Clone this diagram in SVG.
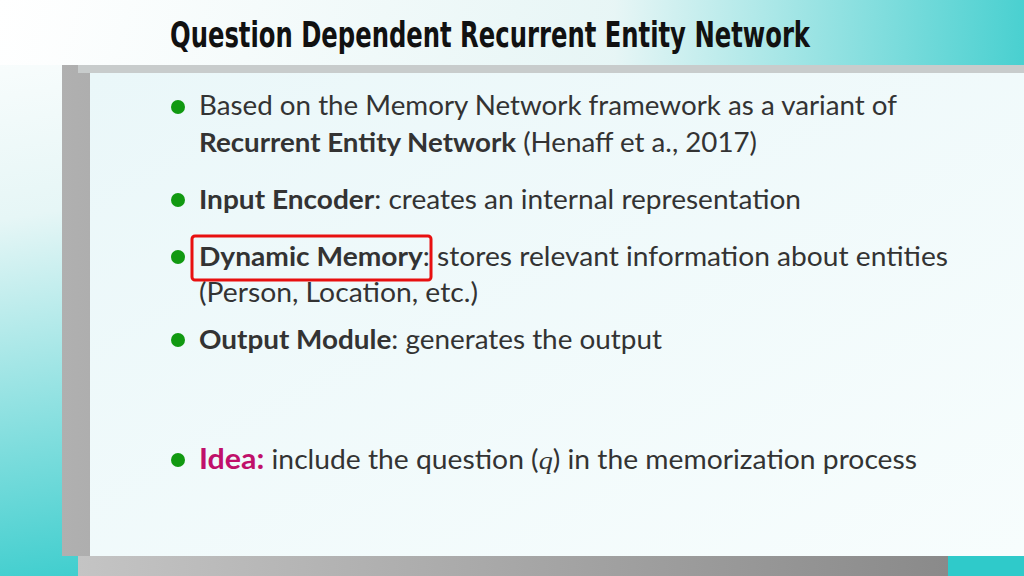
<svg xmlns="http://www.w3.org/2000/svg" width="1024" height="576" viewBox="0 0 1024 576">
<defs>
<linearGradient id="bgL" x1="0" y1="0" x2="0.3" y2="1"><stop offset="0" stop-color="#ffffff"/><stop offset="0.35" stop-color="#e6f6f6"/><stop offset="1" stop-color="#2fcaca"/></linearGradient>
<linearGradient id="bgT" x1="0" y1="0" x2="1" y2="0"><stop offset="0" stop-color="#ffffff"/><stop offset="0.6" stop-color="#e6f5f5"/><stop offset="1" stop-color="#38cccc"/></linearGradient>
<linearGradient id="panel" x1="0" y1="0" x2="1" y2="1"><stop offset="0" stop-color="#eaf7f9"/><stop offset="1" stop-color="#f7fdfd"/></linearGradient>
<linearGradient id="bar" x1="0" y1="0" x2="1" y2="0"><stop offset="0" stop-color="#c4c4c4"/><stop offset="1" stop-color="#8a8a8a"/></linearGradient>
<linearGradient id="edge" x1="0" y1="0" x2="1" y2="0"><stop offset="0" stop-color="#b0b0b0"/><stop offset="0.5" stop-color="#8f8f8f"/><stop offset="1" stop-color="#e0e0e0"/></linearGradient>
<style>
.t{font-family:Lato,"Open Sans",sans-serif;font-size:26px;fill:#333}
.b{font-weight:bold}
.dot{fill:#119911}
</style>
</defs>
<rect width="1024" height="576" fill="url(#bgL)"/>
<rect x="0" y="0" width="1024" height="65" fill="url(#bgT)" opacity="0.9"/>
<rect x="62" y="65" width="962" height="491" fill="url(#edge)"/>
<rect x="78" y="65" width="946" height="8" fill="#c8cccc"/>
<rect x="90" y="73" width="934" height="483" fill="url(#panel)"/>
<rect x="78" y="556" width="870" height="20" fill="url(#bar)"/>
<g id="title"><text x="170" y="47" font-family="'DejaVu Sans Condensed','Liberation Sans Narrow',sans-serif" font-weight="bold" font-size="36" textLength="640" lengthAdjust="spacingAndGlyphs" fill="#111">Question Dependent Recurrent Entity Network</text></g>
<g id="bullets">
<circle class="dot" cx="178" cy="107" r="7"/>
<text class="t" x="199" y="115" textLength="698" lengthAdjust="spacingAndGlyphs">Based on the Memory Network framework as a variant of</text>
<text class="t" x="199" y="152" textLength="558" lengthAdjust="spacingAndGlyphs"><tspan class="b">Recurrent Entity Network</tspan> (Henaff et a., 2017)</text>
<circle class="dot" cx="178" cy="200" r="7"/>
<text class="t" x="199" y="209" textLength="602" lengthAdjust="spacingAndGlyphs"><tspan class="b">Input Encoder</tspan>: creates an internal representation</text>
<circle class="dot" cx="178" cy="257" r="7"/>
<text class="t" x="199" y="266" textLength="749" lengthAdjust="spacingAndGlyphs"><tspan class="b">Dynamic Memory</tspan>: stores relevant information about  entities</text>
<text class="t" x="199" y="302" textLength="279" lengthAdjust="spacingAndGlyphs">(Person, Location, etc.)</text>
<circle class="dot" cx="178" cy="340" r="7"/>
<text class="t" x="199" y="349" textLength="463" lengthAdjust="spacingAndGlyphs"><tspan class="b">Output Module</tspan>: generates the output</text>
<circle class="dot" cx="178" cy="460" r="7"/>
<text class="t" x="199" y="469" textLength="718" lengthAdjust="spacingAndGlyphs"><tspan class="b" fill="#c0106a" font-size="28">Idea:</tspan> include the question (<tspan font-family="'Liberation Serif',serif" font-style="italic">q</tspan>) in the memorization process</text>
</g>
<rect id="highlight" x="192" y="236" width="239" height="44" rx="3" fill="none" stroke="#e81010" stroke-width="3"/>
</svg>
